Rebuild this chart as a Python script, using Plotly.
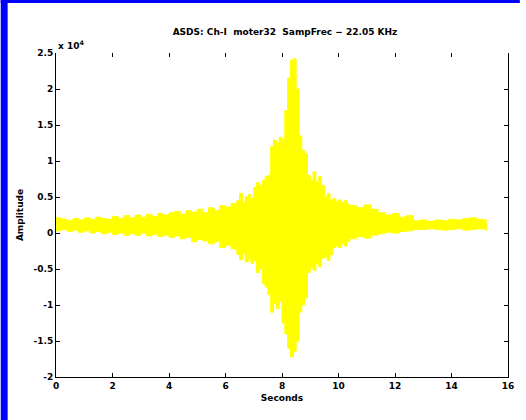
import plotly.graph_objects as go

# Envelope of the waveform (amplitude in units of 1e4)
t = [0.0, 0.2, 0.4, 0.6, 0.8, 1.0, 1.2, 1.4, 1.6, 1.8, 2.0, 2.2, 2.4, 2.6, 2.8, 3.0,
     3.2, 3.4, 3.6, 3.8, 4.0, 4.2, 4.4, 4.6, 4.8, 5.0, 5.2, 5.4, 5.6, 5.8, 6.0, 6.2,
     6.4, 6.5, 6.6, 6.7, 6.8, 6.9, 7.0, 7.1, 7.2, 7.3, 7.4, 7.5, 7.6, 7.7, 7.8, 7.9,
     8.0, 8.1, 8.2, 8.3, 8.4, 8.5, 8.6, 8.7, 8.8, 8.9, 9.0, 9.1, 9.2, 9.3, 9.4, 9.5,
     9.6, 9.7, 9.8, 9.9, 10.0, 10.1, 10.2, 10.3,
     10.4, 10.65, 10.9, 11.15, 11.4, 11.65, 11.9, 12.15, 12.4, 12.65, 12.9, 13.15,
     13.4, 13.65, 13.9, 14.15, 14.4, 14.65, 14.9, 15.15, 15.25]
upper = [0.21, 0.19, 0.17, 0.2, 0.18, 0.21, 0.19, 0.22, 0.2, 0.19, 0.23, 0.2, 0.24,
         0.21, 0.25, 0.22, 0.26, 0.23, 0.27, 0.25, 0.28, 0.3, 0.26, 0.31, 0.29, 0.33,
         0.28, 0.35, 0.31, 0.38, 0.36, 0.41,
         0.45, 0.55, 0.42, 0.5, 0.53, 0.48, 0.63, 0.7, 0.66, 0.73, 0.78, 0.8, 1.2, 1.29,
         1.25, 1.33, 1.3, 1.7, 2.15, 2.4, 2.42, 2.0, 1.35, 1.15, 1.1, 0.8, 0.73, 0.85,
         0.7, 0.78, 0.66, 0.5, 0.55, 0.46, 0.48, 0.44, 0.46, 0.42, 0.45, 0.4,
         0.38, 0.35, 0.39, 0.33, 0.28, 0.25, 0.27, 0.22, 0.24, 0.17, 0.18, 0.16, 0.18,
         0.17, 0.19, 0.18, 0.2, 0.21, 0.19, 0.18, 0.17]
lower = [0.03, 0.05, 0.02, 0.04, 0.01, 0.03, 0.0, 0.02, -0.01, 0.01, -0.02, 0.0, -0.03,
         -0.01, -0.03, 0.0, -0.04, -0.02, -0.05, -0.03, -0.06, -0.04, -0.08, -0.06,
         -0.12, -0.09, -0.11, -0.15, -0.12, -0.2, -0.17, -0.22,
         -0.3, -0.37, -0.28, -0.4, -0.36, -0.42, -0.38, -0.55, -0.5, -0.7, -0.75, -0.85,
         -1.1, -0.98, -1.05, -0.95, -1.25, -1.4, -1.6, -1.72, -1.65, -1.5, -1.1, -1.0,
         -0.9, -0.55, -0.48, -0.52, -0.42, -0.47, -0.35, -0.33, -0.38, -0.3, -0.2,
         -0.18, -0.2, -0.15, -0.18, -0.12,
         -0.08, -0.05, -0.07, -0.03, -0.01, 0.01, 0.0, 0.02, 0.03, 0.05, 0.05, 0.06,
         0.05, 0.04, 0.05, 0.06, 0.04, 0.05, 0.06, 0.05, 0.03]

x_ticks = [0, 2, 4, 6, 8, 10, 12, 14, 16]
y_ticks = [2.5, 2, 1.5, 1, 0.5, 0, -0.5, -1, -1.5, -2]
y_ticktext = ["2.5", "2", "1.5", "1", "0.5", "0", "-0.5", "-1", "-1.5", "-2"]
scale = 1e4

title = "ASDS: Ch-I  moter32  SampFrec \u2212 22.05 KHz"

W, H = 526, 420
ml, mr, mt, mb = 56, 12, 53, 43
pw, ph = W - ml - mr, H - mt - mb

FONT = dict(family="DejaVu Sans, Arial, sans-serif", size=9, color="black", weight="bold")
YELLOW = "#FFFF00"

fig = go.Figure()
fig.add_trace(go.Scatter(x=t, y=[v * scale for v in lower], mode="lines",
                         line=dict(color=YELLOW, width=1, shape="hv"),
                         hoverinfo="skip", showlegend=False))
fig.add_trace(go.Scatter(x=t, y=[v * scale for v in upper], mode="lines",
                         line=dict(color=YELLOW, width=1, shape="hv"),
                         fill="tonexty", fillcolor=YELLOW,
                         hoverinfo="skip", showlegend=False))
# trace on the top axis so its ticks are drawn
fig.add_trace(go.Scatter(x=[None], y=[None], xaxis="x2", mode="lines",
                         showlegend=False, hoverinfo="skip"))

fig.update_layout(
    width=W, height=H,
    margin=dict(l=ml, r=mr, t=mt, b=mb),
    paper_bgcolor="white", plot_bgcolor="white",
    font=FONT,
    showlegend=False,
    title=dict(text=title, x=(ml + pw / 2) / W, xanchor="center",
               y=1 - 32 / H, yanchor="middle", font=FONT),
    xaxis=dict(range=[0, 16], tickvals=x_ticks, ticks="inside", ticklen=4,
               tickcolor="black", showline=True, linecolor="black", linewidth=1,
               showgrid=False, zeroline=False, tickfont=FONT,
               title=dict(text="Seconds", font=FONT, standoff=4)),
    xaxis2=dict(range=[0, 16], tickvals=x_ticks, ticks="inside", ticklen=4,
                tickcolor="black", overlaying="x", side="top", matches="x",
                showticklabels=False, showline=False, showgrid=False, zeroline=False),
    yaxis=dict(range=[-2 * scale, 2.5 * scale], tickvals=[v * scale for v in y_ticks],
               ticktext=y_ticktext, ticks="inside", ticklen=4, tickcolor="black",
               showline=True, linecolor="black", linewidth=1, mirror="ticks",
               showgrid=False, zeroline=False, tickfont=FONT,
               title=dict(text="Amplitude", font=FONT, standoff=8)),
    shapes=[
        dict(type="rect", xref="paper", yref="paper",
             x0=-ml / pw, x1=(-ml + 7) / pw, y0=-mb / ph, y1=(ph + mt) / ph,
             fillcolor="#0000FF", line=dict(width=0), layer="above"),
        dict(type="rect", xref="paper", yref="paper",
             x0=-ml / pw, x1=(pw + mr) / pw, y0=(ph + mt - 3) / ph, y1=(ph + mt) / ph,
             fillcolor="#0000FF", line=dict(width=0), layer="above"),
    ],
    annotations=[
        dict(text="x 10<sup>4</sup>", xref="paper", yref="paper", x=0.0, y=1.0,
             xanchor="left", yanchor="bottom", showarrow=False, font=FONT),
    ],
)

fig.write_html("out.html")
